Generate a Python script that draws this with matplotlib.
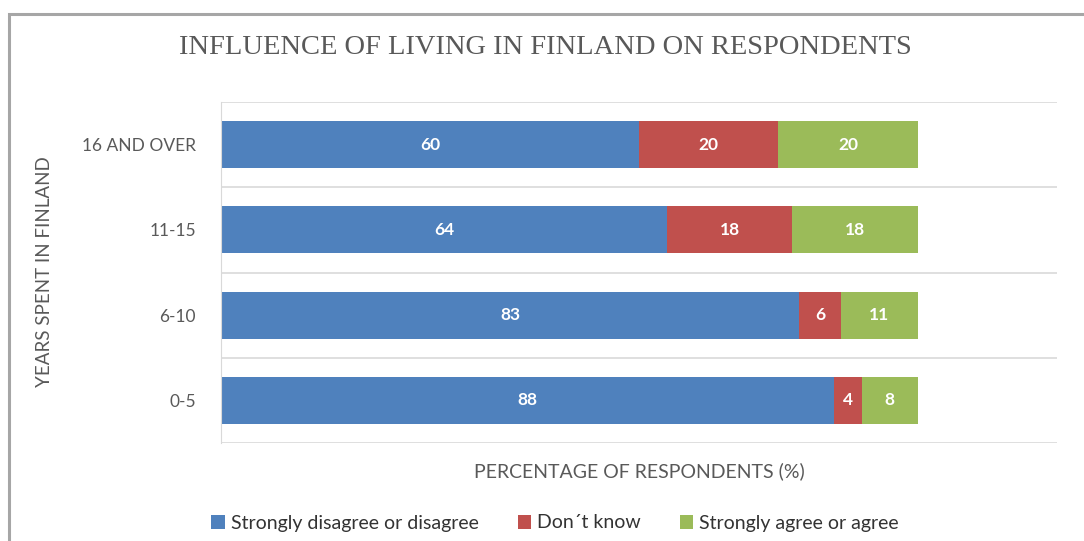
import matplotlib.pyplot as plt
from matplotlib.patches import Rectangle

categories = ["0-5", "6-10", "11-15", "16 AND OVER"]
disagree = [88, 83, 64, 60]
dont_know = [4, 6, 18, 20]
agree = [8, 11, 18, 20]

series_names = ["Strongly disagree or disagree", "Don\u00b4t know", "Strongly agree or agree"]
colors = ["#4F81BD", "#C0504D", "#9BBB59"]

SANS = "Lato"
GRAY = "#595959"

fig = plt.figure(figsize=(10.84, 5.41), dpi=100)
ax = fig.add_axes([0.2039, 0.1811, 0.7712, 0.6304])

# outer chart frame (cut off at right and bottom like the screenshot)
fig.patches.append(Rectangle((9 / 1084, -0.2), 1.2, (541 - 14) / 541 + 0.2,
                             transform=fig.transFigure, fill=False,
                             edgecolor="#A6A6A6", linewidth=2.2))

y = range(len(categories))
left = [0] * len(categories)
for vals, name, c in zip([disagree, dont_know, agree], series_names, colors):
    bars = ax.barh(y, vals, left=left, height=0.55, color=c, label=name)
    ax.bar_label(bars, labels=[str(v) for v in vals], label_type="center",
                 color="white", fontsize=12.5, fontweight="bold", family=SANS)
    left = [a + b for a, b in zip(left, vals)]

ax.set_xlim(0, 120)
ax.set_ylim(-0.5, 3.5)
ax.set_yticks(list(y))
ax.set_yticklabels(categories, fontsize=12.5, color=GRAY, family=SANS)
ax.tick_params(axis="y", length=0, pad=18)
ax.set_xticks([])
for b in [-0.5, 0.5, 1.5, 2.5, 3.5]:
    ax.axhline(b, color="#D9D9D9", linewidth=1.2, zorder=0)
for s in ["top", "right", "bottom"]:
    ax.spines[s].set_visible(False)
ax.spines["left"].set_color("#D9D9D9")

ax.set_xlabel("PERCENTAGE OF RESPONDENTS (%)", fontsize=14, color=GRAY,
              family=SANS, labelpad=14)
fig.text(45 / 1084, 1 - 272 / 541, "YEARS SPENT IN FINLAND", rotation=90,
         ha="center", va="center", fontsize=13.5, color=GRAY, family=SANS)
fig.text(545 / 1084, 1 - 48 / 541, "INFLUENCE OF LIVING IN FINLAND ON RESPONDENTS",
         ha="center", va="center", fontsize=20.5, color=GRAY, family="Liberation Serif")

fig.legend(loc="center", bbox_to_anchor=(555 / 1084, 1 - 523 / 541), ncol=3,
           frameon=False, handlelength=0.7, handleheight=0.7, handletextpad=0.3,
           columnspacing=2.0, prop={"family": SANS, "size": 14},
           labelcolor="#333333")

fig.savefig("out.png", dpi=100)
